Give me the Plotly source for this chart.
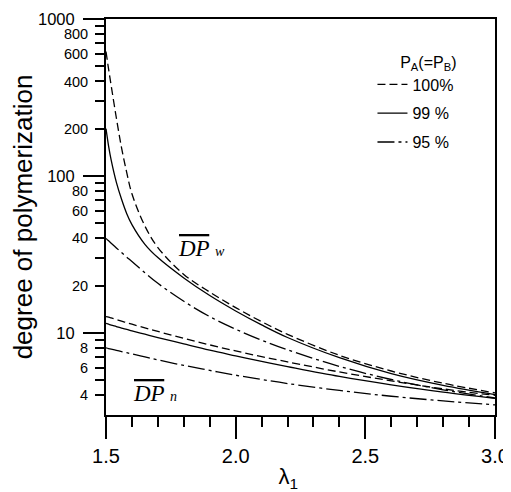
import plotly.graph_objects as go

lam = [1.5, 1.51, 1.52, 1.54, 1.56, 1.58, 1.6, 1.65, 1.7, 1.8,
       1.9, 2.0, 2.1, 2.2, 2.4, 2.6, 2.8, 3.0]

# weight-average degree of polymerization
dpw_100 = [620, 480, 376, 234, 151, 105, 77, 48, 35, 23.6,
           18.2, 14.5, 11.8, 9.8, 7.2, 5.72, 4.78, 4.15]
dpw_99 = [200, 155, 126, 91, 71, 57.5, 49, 36.7, 30.2, 22.4,
          17.3, 13.8, 11.25, 9.35, 6.95, 5.5, 4.63, 4.05]
dpw_95 = [40, 38.6, 37.3, 34.8, 32.5, 30.4, 28.5, 24.2, 20.7, 15.9,
          12.7, 10.56, 8.99, 7.8, 6.12, 5.05, 4.34, 3.85]

# number-average degree of polymerization
dpn_100 = [12.7, 12.59, 12.45, 12.16, 11.88, 11.62, 11.36, 10.76, 10.22, 9.23,
           8.39, 7.68, 7.06, 6.54, 5.64, 4.95, 4.4, 4.0]
dpn_99 = [11.5, 11.36, 11.22, 10.98, 10.74, 10.53, 10.31, 9.81, 9.35, 8.51,
          7.76, 7.14, 6.58, 6.1, 5.28, 4.67, 4.19, 3.83]
dpn_95 = [8.03, 7.95, 7.88, 7.75, 7.61, 7.48, 7.35, 7.03, 6.73, 6.21,
          5.77, 5.38, 5.05, 4.76, 4.3, 3.95, 3.69, 3.48]

conv_names = ["100%", "99 %", "95 %"]
dashes = ["8px,4px", "solid", "17px,4px,3px,4px"]

x_major = [1.5, 2.0, 2.5, 3.0]
y_major = [10, 100, 1000]
y_labelled = [4, 6, 8, 20, 40, 60, 80, 200, 400, 600, 800]
y_minor = [5, 7, 9, 30, 50, 70, 90, 300, 500, 700, 900]

fig = go.Figure()

for name, dash, w, n in zip(conv_names, dashes,
                            [dpw_100, dpw_99, dpw_95],
                            [dpn_100, dpn_99, dpn_95]):
    fig.add_trace(go.Scatter(x=lam, y=w, mode="lines", name=name,
                             legendgroup=name, showlegend=True,
                             line=dict(color="black", width=1.3, dash=dash,
                                       shape="spline", smoothing=1.0)))
    fig.add_trace(go.Scatter(x=lam, y=n, mode="lines", name=name,
                             legendgroup=name, showlegend=False,
                             line=dict(color="black", width=1.3, dash=dash,
                                       shape="spline", smoothing=1.0)))

# empty trace so the second (label) y axis gets drawn
fig.add_trace(go.Scatter(x=[], y=[], yaxis="y2", showlegend=False,
                         hoverinfo="skip"))

fig.add_annotation(x=1.87, y=1.54, xref="x", yref="y",
                   text="<i><span style='text-decoration:overline'>DP</span>"
                        " <span style='font-size:14px'>w</span></i>",
                   showarrow=False,
                   font=dict(family="Liberation Serif", size=23, color="black"))
fig.add_annotation(x=1.69, y=0.615, xref="x", yref="y",
                   text="<i><span style='text-decoration:overline'>DP</span>"
                        " <span style='font-size:14px'>n</span></i>",
                   showarrow=False,
                   font=dict(family="Liberation Serif", size=23, color="black"))

# the page body keeps its 8px margin, so the figure is 8px smaller
fig.update_layout(
    width=503, height=484,
    margin=dict(l=98, r=16, t=11, b=77),
    paper_bgcolor="white", plot_bgcolor="white",
    font=dict(family="Arial", color="black"),
    showlegend=True,
    legend=dict(x=0.685, y=0.93, xanchor="left", yanchor="top",
                traceorder="grouped", tracegroupgap=5,
                bgcolor="rgba(0,0,0,0)",
                font=dict(size=16, family="Arial"),
                title=dict(text="P<sub>A</sub>(=P<sub>B</sub>)",
                           side="top right",
                           font=dict(size=16, family="Arial"))),
    xaxis=dict(range=[1.5, 3.0], tickvals=x_major,
               ticktext=["1.5", "2.0", "2.5", "3.0"],
               ticks="outside", ticklen=22, tickwidth=2, tickcolor="black",
               minor=dict(dtick=0.1, tick0=1.5, ticks="outside", ticklen=10,
                          tickwidth=2, tickcolor="black"),
               showline=True, linewidth=2, linecolor="black", mirror=True,
               showgrid=False, zeroline=False, automargin=False,
               tickfont=dict(size=20),
               title=dict(text="λ<sub>1</sub>&nbsp;&nbsp;&nbsp;&nbsp;",
                          font=dict(size=22), standoff=4)),
    yaxis=dict(type="log", range=[0.4771, 3], tickvals=y_major,
               ticktext=["10", "100", "1000"],
               ticks="outside", ticklen=21, tickwidth=2, tickcolor="black",
               ticklabelstandoff=5,
               showline=True, linewidth=2, linecolor="black", mirror=True,
               showgrid=False, zeroline=False, automargin=False,
               tickfont=dict(size=16.5),
               title=dict(text="degree of polymerization",
                          font=dict(size=26), standoff=3)),
    yaxis2=dict(type="log", range=[0.4771, 3], overlaying="y", side="left",
                anchor="x", tickvals=y_labelled,
                ticktext=[str(v) for v in y_labelled],
                ticks="outside", ticklen=10, tickwidth=2, tickcolor="black",
                ticklabelstandoff=4,
                minor=dict(tickmode="array", tickvals=y_minor,
                           ticks="outside", ticklen=10, tickwidth=2,
                           tickcolor="black"),
                showline=False, showgrid=False, zeroline=False,
                automargin=False,
                tickfont=dict(size=14.5)),
)

fig.write_html("out.html")
